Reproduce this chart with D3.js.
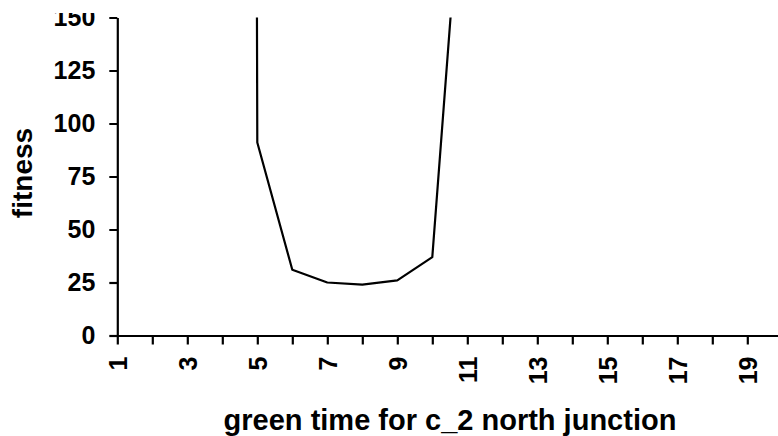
<!DOCTYPE html>
<html>
<head>
<meta charset="utf-8">
<script src="https://cdn.jsdelivr.net/npm/d3@7"></script>
<style>
  body { margin: 0; background: #fff; }
  svg { display: block; font-family: "Liberation Sans", Arial, sans-serif; font-weight: bold; }
</style>
</head>
<body>
<script>
// green time (category) and fitness
var greenTimes = [4, 5, 6, 7, 8, 9, 10, 11];
var fitness    = [6000, 91, 31, 25, 24, 26, 37, 254];

var yTicks = [0, 25, 50, 75, 100, 125, 150];
var xTicks = [1, 2, 3, 4, 5, 6, 7, 8, 9, 10, 11, 12, 13, 14, 15, 16, 17, 18, 19, 20];

var xTitle = "green time for c_2 north junction";
var yTitle = "fitness";

var W = 778, H = 436;

var x = d3.scaleLinear()
    .domain([1, 20])
    .range([117.3, 117.3 + 35 * 19]);

var y = d3.scaleLinear()
    .domain([0, 150])
    .range([335.5, 17.5]);

var svg = d3.select("body").append("svg")
    .attr("width", W)
    .attr("height", H);

var defs = svg.append("defs");
defs.append("clipPath").attr("id", "plot")
  .append("rect")
    .attr("x", x(1)).attr("y", y(150))
    .attr("width", W - x(1)).attr("height", y(0) - y(150));
// the top of the original picture was cropped
defs.append("clipPath").attr("id", "crop")
  .append("rect")
    .attr("x", -W).attr("y", 13)
    .attr("width", 2 * W).attr("height", H);

// y axis
var yAxis = d3.axisLeft(y)
    .tickValues(yTicks)
    .tickSize(8)
    .tickSizeOuter(0)
    .tickPadding(14);

var gy = svg.append("g")
    .attr("transform", "translate(" + x(1) + ",0)")
    .attr("clip-path", "url(#crop)")
    .call(yAxis)
    .attr("font-size", 25)
    .attr("font-family", "Liberation Sans, Arial, sans-serif")
    .attr("font-weight", "bold");
gy.selectAll("text").attr("fill", "#000");

// x axis
var xAxis = d3.axisBottom(x)
    .tickValues(xTicks)
    .tickSize(9)
    .tickSizeOuter(0)
    .tickFormat(function (d) { return d % 2 ? d : ""; });

var gx = svg.append("g")
    .attr("transform", "translate(0," + y(0) + ")")
    .call(xAxis)
    .attr("font-size", 25)
    .attr("font-family", "Liberation Sans, Arial, sans-serif")
    .attr("font-weight", "bold");
gx.selectAll("text")
    .attr("transform", "rotate(-90)")
    .attr("x", -21)
    .attr("y", 0)
    .attr("dy", "0.35em")
    .attr("text-anchor", "end")
    .attr("fill", "#000");

svg.selectAll(".domain, .tick line")
    .attr("stroke", "#000")
    .attr("stroke-width", 2.2);

// the series
var line = d3.line()
    .x(function (d, i) { return x(greenTimes[i]); })
    .y(function (d) { return y(d); });

svg.append("path")
    .datum(fitness)
    .attr("clip-path", "url(#plot)")
    .attr("fill", "none")
    .attr("stroke", "#000")
    .attr("stroke-width", 2.2)
    .attr("stroke-linejoin", "round")
    .attr("d", line);

// titles
svg.append("text")
    .attr("x", 450)
    .attr("y", 430)
    .attr("text-anchor", "middle")
    .style("font-size", "29px")
    .text(xTitle);

svg.append("text")
    .attr("transform", "translate(32,173) rotate(-90)")
    .attr("text-anchor", "middle")
    .style("font-size", "28px")
    .text(yTitle);
</script>
</body>
</html>
